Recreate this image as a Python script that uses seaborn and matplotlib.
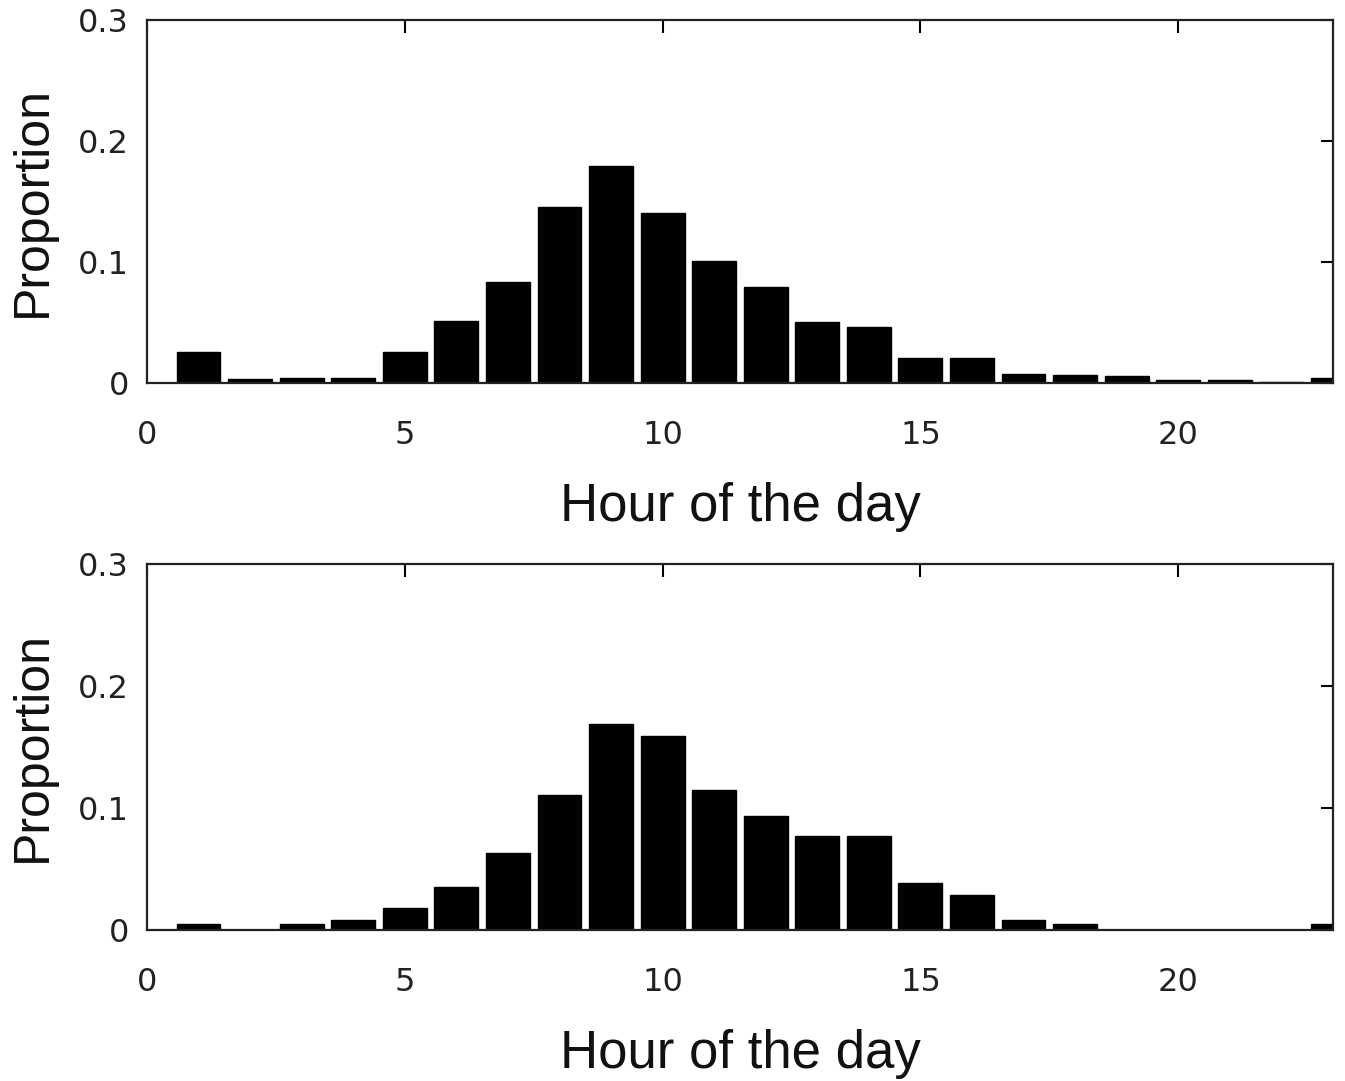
import matplotlib
matplotlib.use('Agg')
import matplotlib.pyplot as plt
import numpy as np
import pandas as pd
import seaborn as sns


# 每小时的比例
hours = list(range(1, 24))
top_values = [0.0254, 0.0036, 0.0044, 0.0044, 0.0260, 0.0515, 0.0835, 0.1457,
              0.1796, 0.1405, 0.1010, 0.0790, 0.0507, 0.0460, 0.0204, 0.0204,
              0.0077, 0.0069, 0.0060, 0.0027, 0.0022, 0.0005, 0.0040]
bottom_values = [0.0049, 0.0, 0.0049, 0.0082, 0.0180, 0.0356, 0.0630, 0.1110,
                 0.1690, 0.1590, 0.1145, 0.0937, 0.0767, 0.0767, 0.0389, 0.0285,
                 0.0082, 0.0049, 0.0, 0.0, 0.0, 0.0, 0.0049]
x_ticks = [0, 5, 10, 15, 20]
y_ticks = [0, 0.1, 0.2, 0.3]
y_tick_labels = ['0', '0.1', '0.2', '0.3']

sns.set_theme(style='white')
plt.rcParams['font.family'] = ['DejaVu Sans']


def draw_panel(ax, values):
    df = pd.DataFrame({'hour': hours, 'proportion': values})
    sns.barplot(data=df, x='hour', y='proportion', native_scale=True,
                color='black', edgecolor='black', width=0.85, ax=ax)
    ax.set_xlim(0, 23)
    ax.set_ylim(0, 0.3)
    ax.set_xticks(x_ticks)
    ax.set_xticklabels([str(t) for t in x_ticks])
    ax.set_yticks(y_ticks)
    ax.set_yticklabels(y_tick_labels)
    ax.tick_params(direction='in', length=9, width=1.5, top=True, right=True,
                   labelsize=23, colors='black', labelcolor='#222222')
    ax.tick_params(axis='x', pad=27)
    ax.tick_params(axis='y', pad=13)
    for s in ax.spines.values():
        s.set_visible(True)
        s.set_linewidth(1.6)
        s.set_color('#222222')
    ax.set_xlabel('Hour of the day', fontsize=38, family='Liberation Sans',
                  labelpad=22, color='#111111')
    ax.set_ylabel('Proportion', fontsize=36, family='Liberation Sans',
                  labelpad=16, color='#111111')


fig = plt.figure(figsize=(13.45, 10.81), dpi=100)
ax1 = fig.add_axes([0.1093, 0.6457, 0.8817, 0.3358])
ax2 = fig.add_axes([0.1093, 0.1397, 0.8817, 0.3386])
draw_panel(ax1, top_values)
draw_panel(ax2, bottom_values)

fig.savefig('out.png', dpi=100, facecolor='white')
